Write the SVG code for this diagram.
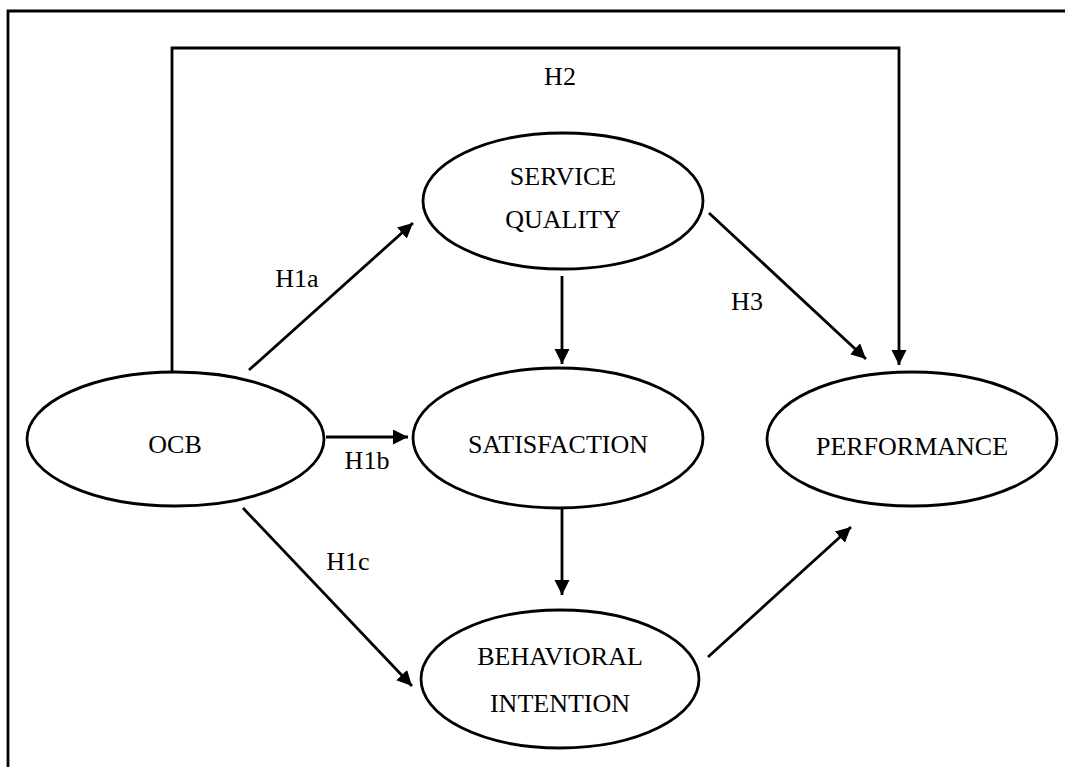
<svg xmlns="http://www.w3.org/2000/svg" width="1065" height="767" viewBox="0 0 1065 767">
<defs>
<style>
.node ellipse{fill:#fff;stroke:#000;stroke-width:2.8}
text{font-family:"Liberation Serif","Times New Roman",serif;font-size:26px;fill:#000;text-anchor:middle}
.conn line,.conn path{stroke:#000;stroke-width:2.8;fill:none}
.arr{marker-end:url(#ah)}
</style>
<marker id="ah" markerUnits="userSpaceOnUse" markerWidth="16" markerHeight="16" refX="15" refY="7.5" orient="auto" viewBox="0 0 16 16">
<path d="M0,0 L15,7.5 L0,15 z" fill="#000"/>
</marker>
</defs>
<rect width="1065" height="767" fill="#fff"/>
<path d="M8,767 L8,11 L1065,11" fill="none" stroke="#000" stroke-width="2.8"/>
<g class="conn" id="connectors">
<path class="arr" d="M172,372 L172,48 L899,48 L899,365"/>
<line class="arr" x1="709" y1="213" x2="866" y2="359"/>
<line class="arr" x1="249" y1="370" x2="413" y2="223"/>
<line class="arr" x1="562" y1="276" x2="562" y2="364"/>
<line class="arr" x1="326" y1="437" x2="408" y2="437"/>
<line class="arr" x1="243" y1="508" x2="412" y2="686"/>
<line class="arr" x1="562" y1="508" x2="562" y2="595"/>
<line class="arr" x1="708" y1="657" x2="851" y2="527"/>
</g>
<g id="labels">
<text x="560" y="85">H2</text>
<text x="297" y="287">H1a</text>
<text x="747" y="310">H3</text>
<text x="367" y="469">H1b</text>
<text x="348" y="570">H1c</text>
</g>
<g class="node" id="ocb"><ellipse cx="175.5" cy="439" rx="148.5" ry="67"/><text x="175" y="453">OCB</text></g>
<g class="node" id="service-quality"><ellipse cx="563" cy="201" rx="140" ry="68"/><text x="563" y="185">SERVICE</text><text x="563" y="228">QUALITY</text></g>
<g class="node" id="satisfaction"><ellipse cx="558" cy="438" rx="145" ry="70"/><text x="558" y="453">SATISFACTION</text></g>
<g class="node" id="performance"><ellipse cx="912" cy="439" rx="145" ry="67"/><text x="912" y="455">PERFORMANCE</text></g>
<g class="node" id="behavioral-intention"><ellipse cx="560" cy="679" rx="139" ry="69"/><text x="560" y="665">BEHAVIORAL</text><text x="560" y="712">INTENTION</text></g>
</svg>
